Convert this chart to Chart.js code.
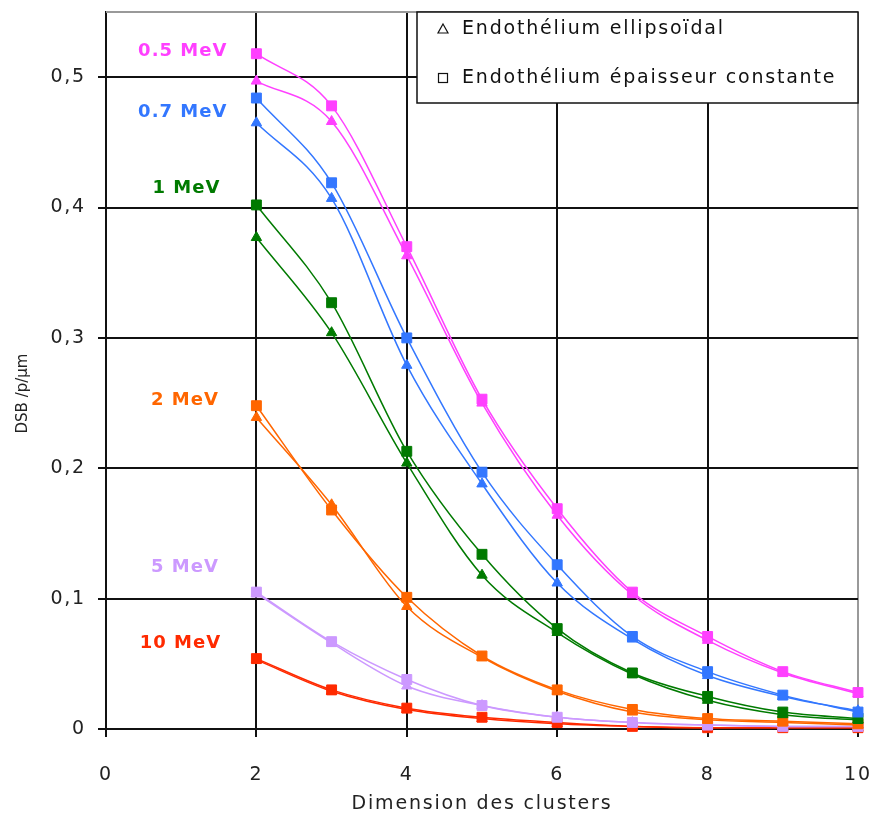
<!DOCTYPE html>
<html>
<head>
<meta charset="utf-8">
<script src="https://cdn.jsdelivr.net/npm/chart.js@4"></script>
<style>
  body { margin: 0; background: #fff; }
  #wrap { width: 872px; height: 820px; }
</style>
</head>
<body>
<div id="wrap"><canvas id="dsbChart" width="872" height="820"></canvas></div>
<script>
// cluster sizes on the x axis
const clusterSizes = [2, 3, 4, 5, 6, 7, 8, 9, 10];

const energies = ['0.5 MeV', '0.7 MeV', '1 MeV', '2 MeV', '5 MeV', '10 MeV'];
const energyColors = ['#ff40ff', '#3377ff', '#007a00', '#ff6600', '#cc99ff', '#ff2a00'];

// triangles : endothelium ellipsoidal
const ellip05 = [0.497, 0.466, 0.363, 0.250, 0.164, 0.103, 0.068, 0.043, 0.027];
const ellip07 = [0.465, 0.407, 0.279, 0.188, 0.112, 0.069, 0.041, 0.025, 0.014];
const ellip1  = [0.377, 0.304, 0.204, 0.118, 0.074, 0.042, 0.022, 0.011, 0.007];
const ellip2  = [0.239, 0.172, 0.094, 0.055, 0.029, 0.013, 0.007, 0.005, 0.003];
const ellip5  = [0.104, 0.066, 0.033, 0.018, 0.009, 0.005, 0.003, 0.002, 0.002];
const ellip10 = [0.053, 0.029, 0.015, 0.008, 0.004, 0.002, 0.001, 0.001, 0.001];

// squares : endothelium constant thickness
const const05 = [0.518, 0.478, 0.370, 0.253, 0.169, 0.105, 0.071, 0.044, 0.028];
const const07 = [0.484, 0.419, 0.300, 0.197, 0.126, 0.071, 0.044, 0.026, 0.013];
const const1  = [0.402, 0.327, 0.213, 0.134, 0.077, 0.043, 0.025, 0.013, 0.008];
const const2  = [0.248, 0.168, 0.101, 0.056, 0.030, 0.015, 0.008, 0.006, 0.004];
const const5  = [0.105, 0.067, 0.038, 0.018, 0.009, 0.005, 0.003, 0.002, 0.002];
const const10 = [0.054, 0.030, 0.016, 0.009, 0.005, 0.002, 0.001, 0.001, 0.001];

const ellipSeries = [ellip05, ellip07, ellip1, ellip2, ellip5, ellip10];
const constSeries = [const05, const07, const1, const2, const5, const10];

const xTicks = [0, 2, 4, 6, 8, 10];
const legendLabels = ['Endothélium ellipsoïdal', 'Endothélium épaisseur constante'];
const yTitle = 'DSB /p/µm';

const FONT = "'DejaVu Sans', Verdana, sans-serif";
const SPACING = '1.8px';

function toPoints(values) {
  return values.map((v, i) => ({ x: clusterSizes[i], y: v }));
}

const datasets = [];
energies.forEach((name, i) => {
  datasets.push({
    label: name + ' ellipsoïdal',
    data: toPoints(ellipSeries[i]),
    borderColor: energyColors[i],
    backgroundColor: energyColors[i],
    borderWidth: 1.5,
    pointStyle: 'triangle',
    pointRadius: 6,
    pointBorderWidth: 1,
    cubicInterpolationMode: 'monotone',
    clip: false
  });
  datasets.push({
    label: name + ' constante',
    data: toPoints(constSeries[i]),
    borderColor: energyColors[i],
    backgroundColor: energyColors[i],
    borderWidth: 1.5,
    pointStyle: 'rect',
    pointRadius: 7,
    pointBorderWidth: 1,
    cubicInterpolationMode: 'monotone',
    clip: false
  });
});

// wider letter spacing for the axis texts, like the original
const spacing = {
  id: 'spacing',
  beforeLayout(chart) { chart.ctx.letterSpacing = SPACING; },
  beforeDraw(chart) { chart.ctx.letterSpacing = SPACING; }
};

// energy names written next to the curves
const energyLabels = {
  id: 'energyLabels',
  afterDatasetsDraw(chart) {
    const { ctx, scales: { x, y } } = chart;
    const where = [[1.02, 0.520], [1.02, 0.473], [1.07, 0.415], [1.05, 0.252], [1.05, 0.124], [0.99, 0.066]];
    ctx.save();
    ctx.letterSpacing = '1px';
    ctx.font = 'bold 18px ' + FONT;
    ctx.textAlign = 'center';
    ctx.textBaseline = 'middle';
    energies.forEach((name, i) => {
      ctx.fillStyle = energyColors[i];
      ctx.fillText(name, x.getPixelForValue(where[i][0]), y.getPixelForValue(where[i][1]));
    });
    ctx.restore();
  }
};

// boxed legend in the upper right corner, grey top frame, y title
const boxLegend = {
  id: 'boxLegend',
  afterDraw(chart) {
    const { ctx, chartArea: a } = chart;
    ctx.save();
    ctx.strokeStyle = '#999';
    ctx.lineWidth = 2;
    ctx.beginPath();
    ctx.moveTo(a.left, a.top);
    ctx.lineTo(a.right, a.top);
    ctx.stroke();

    const w = 441, h = 91;
    const bx = a.right - w, by = a.top;
    ctx.fillStyle = '#fff';
    ctx.fillRect(bx, by, w, h);
    ctx.strokeStyle = '#111';
    ctx.lineWidth = 1.5;
    ctx.strokeRect(bx, by, w, h);

    ctx.letterSpacing = SPACING;
    ctx.font = '19px ' + FONT;
    ctx.fillStyle = '#111';
    ctx.textBaseline = 'middle';
    ctx.textAlign = 'left';
    ctx.lineWidth = 1.2;
    let cy = by + 17;
    ctx.beginPath();
    ctx.moveTo(bx + 26, cy - 5);
    ctx.lineTo(bx + 31, cy + 4);
    ctx.lineTo(bx + 21, cy + 4);
    ctx.closePath();
    ctx.stroke();
    ctx.fillText(legendLabels[0], bx + 45, cy);
    cy = by + 66;
    ctx.strokeRect(bx + 21.5, cy - 4.5, 9, 9);
    ctx.fillText(legendLabels[1], bx + 45, cy);

    // y axis title, sitting a bit below the middle as in the original
    ctx.letterSpacing = '0px';
    ctx.font = '15px ' + FONT;
    ctx.fillStyle = '#222';
    ctx.textAlign = 'center';
    ctx.translate(23, (a.top + a.bottom) / 2 + 23);
    ctx.rotate(-Math.PI / 2);
    ctx.fillText(yTitle, 0, 0);
    ctx.restore();
  }
};

new Chart(document.getElementById('dsbChart'), {
  type: 'line',
  data: { datasets: datasets },
  options: {
    responsive: false,
    animation: false,
    layout: { padding: { top: 12, right: 14, left: 0, bottom: 0 } },
    plugins: {
      legend: { display: false },
      tooltip: { enabled: false }
    },
    scales: {
      x: {
        type: 'linear',
        min: 0,
        max: 10,
        afterBuildTicks: (scale) => { scale.ticks = xTicks.map(v => ({ value: v })); },
        afterFit: (scale) => {
          scale.height = 91;
          scale.paddingLeft = 0;
          scale.paddingRight = 0;
        },
        ticks: { color: '#222', font: { family: FONT, size: 19 }, padding: 27, maxRotation: 0 },
        grid: {
          color: (c) => (c.tick && c.tick.value === 10 ? '#999' : '#111'),
          lineWidth: 2,
          tickLength: 8,
          tickColor: '#111'
        },
        border: { color: '#111', width: 2 },
        title: {
          display: true,
          text: 'Dimension des clusters',
          color: '#222',
          font: { family: FONT, size: 19 },
          padding: { top: 0, bottom: 5 }
        }
      },
      y: {
        min: 0,
        max: 0.55,
        afterFit: (scale) => {
          scale.width = 106;
          scale.paddingTop = 0;
          scale.paddingBottom = 0;
        },
        ticks: {
          stepSize: 0.1,
          includeBounds: false,
          color: '#222',
          padding: 12,
          font: { family: FONT, size: 19 },
          callback: (v) => (v === 0 ? '0' : v.toFixed(1).replace('.', ','))
        },
        grid: { color: '#111', lineWidth: 2, tickLength: 8 },
        border: { color: '#111', width: 2 }
      }
    }
  },
  plugins: [spacing, energyLabels, boxLegend]
});
</script>
</body>
</html>
